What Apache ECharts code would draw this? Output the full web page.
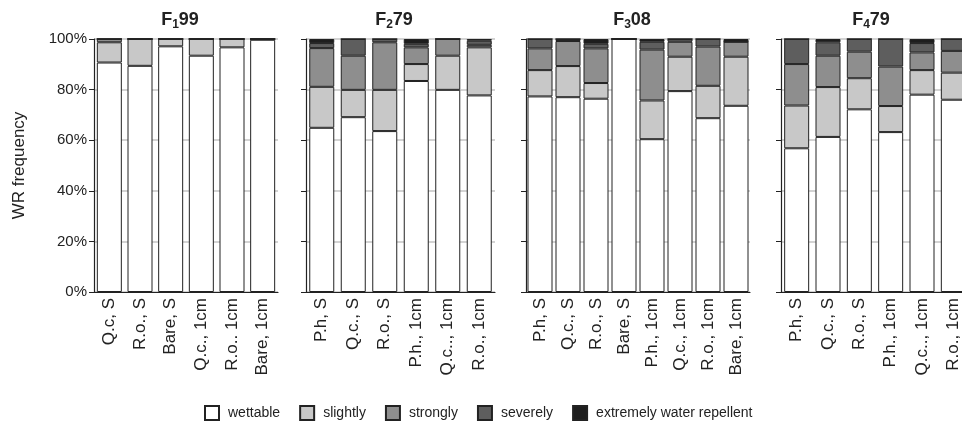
<!DOCTYPE html>
<html>
<head>
<meta charset="utf-8">
<script src="https://cdn.jsdelivr.net/npm/echarts@6/dist/echarts.min.js"></script>
<style>html,body{margin:0;padding:0;background:#fff}#c{width:962px;height:429px}</style>
</head>
<body>
<div id="c"></div>
<script>
// ---- data ----
const seriesNames = ['wettable', 'slightly', 'strongly', 'severely', 'extremely water repellent'];
const panelTitles = [['F', '1', '99'], ['F', '2', '79'], ['F', '3', '08'], ['F', '4', '79']];
const yTicks = [0, 20, 40, 60, 80, 100];

const catsF1 = ['Q.c, S', 'R.o., S', 'Bare, S', 'Q.c., 1cm', 'R.o.. 1cm', 'Bare, 1cm'];
const wettableF1 = [90.7, 89.4, 97.1, 93.4, 96.7, 99.7];
const slightlyF1 = [8.0, 10.6, 2.9, 6.6, 3.3, 0.3];
const stronglyF1 = [1.3, 0, 0, 0, 0, 0];
const severelyF1 = [0, 0, 0, 0, 0, 0];
const extremeF1 = [0, 0, 0, 0, 0, 0];

const catsF2 = ['P.h, S', 'Q.c., S', 'R.o., S', 'P.h., 1cm', 'Q.c.., 1cm', 'R.o., 1cm'];
const wettableF2 = [64.9, 69.1, 63.6, 83.4, 79.9, 77.7];
const slightlyF2 = [16.2, 10.8, 16.3, 6.7, 13.5, 19.0];
const stronglyF2 = [15.3, 13.5, 18.8, 6.6, 6.6, 1.0];
const severelyF2 = [2.0, 6.6, 1.3, 1.4, 0, 1.6];
const extremeF2 = [1.6, 0, 0, 1.9, 0, 0.7];

const catsF3 = ['P.h, S', 'Q.c., S', 'R.o., S', 'Bare, S', 'P.h., 1cm', 'Q.c., 1cm', 'R.o., 1cm', 'Bare, 1cm'];
const wettableF3 = [77.3, 77.0, 76.4, 100, 60.4, 79.4, 68.7, 73.6];
const slightlyF3 = [10.4, 12.3, 6.2, 0, 15.3, 13.6, 12.8, 19.4];
const stronglyF3 = [8.6, 9.9, 13.7, 0, 20.1, 5.9, 15.5, 5.9];
const severelyF3 = [3.7, 0.8, 1.8, 0, 3.1, 1.1, 3.0, 0];
const extremeF3 = [0, 0, 1.9, 0, 1.1, 0, 0, 1.1];

const catsF4 = ['P.h, S', 'Q.c., S', 'R.o., S', 'P.h., 1cm', 'Q.c.., 1cm', 'R.o., 1cm'];
const wettableF4 = [56.8, 61.3, 72.2, 63.2, 78.0, 76.0];
const slightlyF4 = [16.9, 19.7, 12.3, 10.3, 9.7, 10.7];
const stronglyF4 = [16.4, 12.4, 10.5, 15.6, 7.0, 8.6];
const severelyF4 = [9.9, 5.3, 5.0, 10.9, 3.7, 4.7];
const extremeF4 = [0, 1.3, 0, 0, 1.6, 0];

// ---- layout / style ----
const panels = [
  { cats: catsF1, vals: [wettableF1, slightlyF1, stronglyF1, severelyF1, extremeF1], left: 94, width: 184, titleX: 180 },
  { cats: catsF2, vals: [wettableF2, slightlyF2, stronglyF2, severelyF2, extremeF2], left: 306, width: 189, titleX: 394 },
  { cats: catsF3, vals: [wettableF3, slightlyF3, stronglyF3, severelyF3, extremeF3], left: 526, width: 224, titleX: 632 },
  { cats: catsF4, vals: [wettableF4, slightlyF4, stronglyF4, severelyF4, extremeF4], left: 781, width: 188, titleX: 871 }
];
const colors = ['#ffffff', '#c8c8c8', '#8e8e8e', '#5e5e5e', '#1e1e1e'];
const FONT = 'Liberation Sans, Arial, Helvetica, sans-serif';
const ink = '#222';

const grid = [], xAxis = [], yAxis = [], series = [], graphic = [];
panels.forEach((p, i) => {
  grid.push({ left: p.left, width: p.width, top: 39, height: 253, outerBoundsMode: 'none', containLabel: false });
  xAxis.push({
    gridIndex: i, type: 'category', data: p.cats,
    axisLine: { lineStyle: { color: ink, width: 1.2 } },
    axisTick: { show: false },
    axisLabel: { rotate: 90, interval: 0, fontSize: 17, color: ink, fontFamily: FONT, margin: 6 }
  });
  yAxis.push({
    gridIndex: i, type: 'value', min: 0, max: 100, interval: 20,
    axisLine: { show: true, lineStyle: { color: ink, width: 1.2 } },
    axisTick: { show: true, length: 5, lineStyle: { color: ink } },
    axisLabel: { show: i === 0, formatter: '{value}%', fontSize: 15, color: ink, fontFamily: FONT, margin: 7 },
    splitLine: { show: true, lineStyle: { color: '#c4c4c4', width: 1.5 } },
    name: i === 0 ? 'WR frequency' : '',
    nameLocation: 'middle', nameRotate: 90, nameGap: 66,
    nameTextStyle: { fontSize: 17, color: ink, fontFamily: FONT }
  });
  seriesNames.forEach((nm, k) => {
    series.push({
      name: nm, type: 'bar', stack: 'p' + i,
      xAxisIndex: i, yAxisIndex: i, barWidth: 25,
      data: p.vals[k],
      itemStyle: { color: colors[k], borderColor: ink, borderWidth: 1 },
      emphasis: { disabled: true }
    });
  });
  const t = panelTitles[i];
  graphic.push({
    type: 'text', x: p.titleX, y: 19,
    style: {
      text: '{a|' + t[0] + '}{s|' + t[1] + '}{a|' + t[2] + '}',
      align: 'center', verticalAlign: 'middle',
      rich: {
        a: { fontSize: 18, fontWeight: 'bold', fontFamily: FONT, fill: ink, lineHeight: 20, verticalAlign: 'bottom' },
        s: { fontSize: 12, fontWeight: 'bold', fontFamily: FONT, fill: ink, lineHeight: 16, verticalAlign: 'bottom', padding: [0, 0, -2, 0] }
      }
    }
  });
});

const chart = echarts.init(document.getElementById('c'), null, { renderer: 'canvas' });
chart.setOption({
  animation: false,
  backgroundColor: '#fff',
  grid, xAxis, yAxis, series, graphic,
  legend: {
    data: seriesNames, left: 204, top: 405, icon: 'rect', padding: 0,
    itemWidth: 14, itemHeight: 14, itemGap: 19,
    textStyle: { fontSize: 14, color: ink, fontFamily: FONT, padding: [0, 0, 0, 4] }
  }
});
</script>
</body>
</html>
